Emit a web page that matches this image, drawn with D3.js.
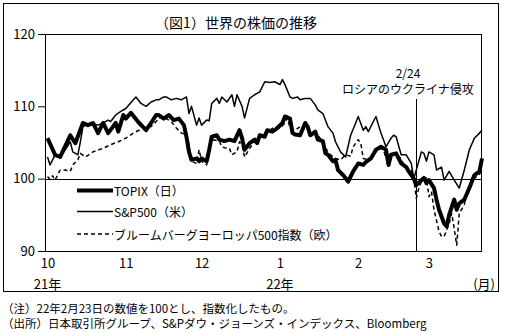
<!DOCTYPE html>
<html><head><meta charset="utf-8">
<script src="https://cdn.jsdelivr.net/npm/d3@7"></script>
<style>
body{margin:0;background:#fff}
svg{display:block}
text{font-family:"Noto Sans CJK JP","Noto Sans",sans-serif;fill:#000}
</style>
</head><body>
<svg id="c" width="506" height="332"></svg>
<script>
// ---- data (index, 2022-02-23 = 100) ----
const topix = [["2021-10-01",105.6],["2021-10-04",103.3],["2021-10-06",103.0],["2021-10-10",106.0],["2021-10-12",104.9],["2021-10-15",107.7],["2021-10-17",107.4],["2021-10-19",107.7],["2021-10-21",106.3],["2021-10-23",107.7],["2021-10-25",106.3],["2021-10-28",107.7],["2021-10-29",106.5],["2021-10-31",108.8],["2021-11-01",108.3],["2021-11-03",109.1],["2021-11-06",107.8],["2021-11-09",106.7],["2021-11-11",107.7],["2021-11-13",108.8],["2021-11-14",108.8],["2021-11-16",108.3],["2021-11-18",108.8],["2021-11-20",108.1],["2021-11-22",108.3],["2021-11-24",107.4],["2021-11-25",105.8],["2021-11-26",103.7],["2021-11-27",102.6],["2021-11-29",102.8],["2021-11-30",102.4],["2021-12-01",102.8],["2021-12-03",102.4],["2021-12-04",104.0],["2021-12-05",105.8],["2021-12-07",106.0],["2021-12-08",105.4],["2021-12-10",105.2],["2021-12-12",105.4],["2021-12-14",105.2],["2021-12-16",106.7],["2021-12-17",105.6],["2021-12-18",104.0],["2021-12-20",104.9],["2021-12-22",105.4],["2021-12-23",104.9],["2021-12-24",106.0],["2021-12-26",105.8],["2021-12-27",106.7],["2021-12-29",106.5],["2021-12-31",107.0],["2022-01-02",107.7],["2022-01-03",108.6],["2022-01-05",108.3],["2022-01-06",106.3],["2022-01-07",106.1],["2022-01-09",106.0],["2022-01-11",107.7],["2022-01-12",107.2],["2022-01-13",106.0],["2022-01-15",106.5],["2022-01-16",105.4],["2022-01-18",105.2],["2022-01-19",103.5],["2022-01-20",103.3],["2022-01-22",102.4],["2022-01-23",102.6],["2022-01-24",101.2],["2022-01-26",100.5],["2022-01-28",99.6],["2022-01-29",100.3],["2022-01-30",101.0],["2022-02-01",102.1],["2022-02-03",101.9],["2022-02-04",102.3],["2022-02-06",102.8],["2022-02-08",104.0],["2022-02-10",104.4],["2022-02-12",104.0],["2022-02-13",101.9],["2022-02-14",103.3],["2022-02-16",103.5],["2022-02-17",102.8],["2022-02-18",102.1],["2022-02-20",101.6],["2022-02-21",101.0],["2022-02-23",100.0],["2022-02-24",99.1],["2022-02-26",99.8],["2022-02-27",100.1],["2022-02-28",99.4],["2022-03-01",99.8],["2022-03-03",98.7],["2022-03-04",97.1],["2022-03-05",95.7],["2022-03-07",93.8],["2022-03-08",93.4],["2022-03-09",95.0],["2022-03-11",97.1],["2022-03-12",95.7],["2022-03-13",96.6],["2022-03-15",97.1],["2022-03-17",98.7],["2022-03-19",100.5],["2022-03-21",101.0],["2022-03-22",102.8]];

const sp500 = [["2021-10-01",103.0],["2021-10-02",101.9],["2021-10-04",103.3],["2021-10-06",102.9],["2021-10-08",104.0],["2021-10-10",105.1],["2021-10-11",103.7],["2021-10-13",103.3],["2021-10-14",105.1],["2021-10-15",107.2],["2021-10-18",107.7],["2021-10-21",107.4],["2021-10-23",107.7],["2021-10-25",108.1],["2021-10-26",107.9],["2021-10-28",108.8],["2021-10-30",109.3],["2021-11-01",109.7],["2021-11-04",110.9],["2021-11-05",111.3],["2021-11-07",110.4],["2021-11-09",110.0],["2021-11-11",110.6],["2021-11-13",110.9],["2021-11-14",110.9],["2021-11-16",111.3],["2021-11-17",111.3],["2021-11-19",110.9],["2021-11-21",111.1],["2021-11-23",110.9],["2021-11-25",111.3],["2021-11-26",109.0],["2021-11-27",110.0],["2021-11-29",107.4],["2021-11-30",108.4],["2021-12-01",107.4],["2021-12-03",108.1],["2021-12-04",108.0],["2021-12-05",110.4],["2021-12-07",111.1],["2021-12-08",110.4],["2021-12-09",111.3],["2021-12-11",110.6],["2021-12-13",111.6],["2021-12-14",110.0],["2021-12-15",111.6],["2021-12-17",110.0],["2021-12-18",108.4],["2021-12-20",111.1],["2021-12-22",111.6],["2021-12-24",112.0],["2021-12-26",113.4],["2021-12-28",113.3],["2021-12-30",113.4],["2022-01-01",113.0],["2022-01-02",113.7],["2022-01-03",113.0],["2022-01-05",111.3],["2022-01-06",111.1],["2022-01-08",111.3],["2022-01-09",110.9],["2022-01-11",111.1],["2022-01-13",111.1],["2022-01-15",110.2],["2022-01-16",109.5],["2022-01-18",109.0],["2022-01-20",107.2],["2022-01-22",106.3],["2022-01-23",105.1],["2022-01-25",103.7],["2022-01-27",103.0],["2022-01-29",106.0],["2022-01-31",107.7],["2022-02-01",108.6],["2022-02-03",106.7],["2022-02-04",107.2],["2022-02-05",106.5],["2022-02-07",107.9],["2022-02-08",108.6],["2022-02-10",106.3],["2022-02-12",104.4],["2022-02-14",105.6],["2022-02-15",106.0],["2022-02-16",105.8],["2022-02-18",103.3],["2022-02-20",103.3],["2022-02-22",102.1],["2022-02-23",100.0],["2022-02-24",101.2],["2022-02-26",103.7],["2022-02-27",103.5],["2022-02-28",102.4],["2022-03-01",103.7],["2022-03-03",103.3],["2022-03-04",101.2],["2022-03-06",101.6],["2022-03-07",99.8],["2022-03-09",101.0],["2022-03-11",99.8],["2022-03-13",98.7],["2022-03-15",101.2],["2022-03-17",104.0],["2022-03-19",105.6],["2022-03-21",106.3],["2022-03-22",106.7]];

const europe = [["2021-10-01",100.3],["2021-10-02",99.9],["2021-10-03",100.4],["2021-10-04",99.8],["2021-10-06",101.2],["2021-10-08",101.2],["2021-10-10",101.0],["2021-10-11",101.9],["2021-10-13",102.6],["2021-10-14",103.5],["2021-10-16",103.0],["2021-10-19",103.7],["2021-10-23",104.2],["2021-10-26",104.7],["2021-10-29",105.1],["2021-11-01",105.6],["2021-11-04",106.3],["2021-11-08",107.0],["2021-11-11",107.2],["2021-11-13",107.9],["2021-11-15",108.6],["2021-11-17",108.3],["2021-11-19",107.9],["2021-11-21",107.0],["2021-11-23",106.3],["2021-11-25",106.1],["2021-11-26",104.7],["2021-11-27",102.4],["2021-11-29",102.1],["2021-11-30",104.0],["2021-12-01",102.4],["2021-12-03",101.9],["2021-12-04",103.7],["2021-12-05",105.4],["2021-12-08",105.2],["2021-12-09",104.4],["2021-12-11",104.2],["2021-12-12",104.2],["2021-12-13",103.3],["2021-12-15",103.7],["2021-12-16",105.1],["2021-12-17",104.7],["2021-12-18",103.0],["2021-12-20",104.2],["2021-12-22",105.1],["2021-12-24",105.6],["2021-12-26",106.3],["2021-12-28",106.7],["2021-12-30",107.2],["2022-01-01",107.0],["2022-01-03",107.7],["2022-01-04",108.4],["2022-01-05",107.0],["2022-01-07",106.7],["2022-01-09",107.2],["2022-01-11",107.4],["2022-01-12",106.7],["2022-01-14",106.5],["2022-01-16",106.0],["2022-01-18",105.1],["2022-01-19",104.2],["2022-01-21",103.3],["2022-01-23",102.8],["2022-01-25",102.6],["2022-01-27",103.3],["2022-01-29",103.1],["2022-01-30",104.4],["2022-02-01",105.4],["2022-02-02",104.9],["2022-02-03",102.8],["2022-02-05",102.6],["2022-02-07",103.3],["2022-02-08",103.7],["2022-02-10",104.2],["2022-02-11",104.0],["2022-02-12",102.8],["2022-02-14",103.3],["2022-02-15",103.5],["2022-02-16",103.1],["2022-02-18",102.8],["2022-02-19",101.9],["2022-02-20",101.4],["2022-02-22",101.2],["2022-02-23",100.0],["2022-02-24",97.3],["2022-02-25",98.7],["2022-02-26",99.6],["2022-02-27",99.8],["2022-02-28",100.1],["2022-03-01",97.5],["2022-03-02",98.2],["2022-03-03",95.7],["2022-03-05",92.7],["2022-03-06",92.0],["2022-03-07",92.0],["2022-03-09",93.8],["2022-03-10",95.2],["2022-03-11",93.1],["2022-03-12",90.8],["2022-03-13",95.2],["2022-03-15",96.4],["2022-03-16",98.2],["2022-03-18",99.8],["2022-03-20",100.3],["2022-03-22",101.0]];

const seriesNames = ["TOPIX（日）","S&P500（米）","ブルームバーグヨーロッパ500指数（欧）"];
const monthTicks = ["2021-10-01","2021-11-01","2021-12-01","2022-01-01","2022-02-01","2022-03-01"];
const monthLabels = ["10","11","12","1","2","3"];
const yearTicks = ["2021-10-01","2022-01-01"];
const yearLabels = ["21年","22年"];
const yTicks = [90,100,110,120];
const eventDate = "2022-02-24";
const eventLabels = ["2/24","ロシアのウクライナ侵攻"];
const titleText = "（図1）世界の株価の推移";
const noteLines = ["（注）22年2月23日の数値を100とし、指数化したもの。","（出所）日本取引所グループ、S&Pダウ・ジョーンズ・インデックス、Bloomberg"];

// ---- drawing ----
const parse = d3.timeParse("%Y-%m-%d");
const svg = d3.select("#c");
const L = 45, R = 482, T = 34, B = 251;
const FF = '"Noto Sans CJK JP","Noto Sans",sans-serif';

const x = d3.scaleTime().domain([parse("2021-09-30"), parse("2022-03-22")]).range([L, R]);
const y = d3.scaleLinear().domain([90, 120]).range([B, T]);

// outer frame
svg.append("rect").attr("x",3.5).attr("y",3.5).attr("width",495).attr("height",288)
  .attr("fill","none").attr("stroke","#000").attr("stroke-width",1);

// title
svg.append("text").attr("x",236).attr("y",22).attr("text-anchor","middle")
  .attr("dominant-baseline","central").attr("font-size",14).text(titleText);

// y axis
const yAxis = d3.axisLeft(y).tickValues(yTicks).tickSize(7).tickPadding(3).tickFormat(d3.format("d"));
const gy = svg.append("g").attr("transform",`translate(${L},0)`).call(yAxis);
gy.select(".domain").remove();
gy.selectAll("text").attr("font-size",13).attr("font-family",FF);
gy.selectAll("line").attr("stroke","#000");

// x axis labels (no tick marks)
const xAxis = d3.axisBottom(x).tickValues(monthTicks.map(parse)).tickSize(0).tickPadding(8)
  .tickFormat((d,i) => monthLabels[i]);
const gx = svg.append("g").attr("transform",`translate(0,${B})`).call(xAxis);
gx.select(".domain").remove();
gx.selectAll("text").attr("font-size",13).attr("font-family",FF);

svg.selectAll("text.yr").data(yearTicks).enter().append("text").attr("class","yr")
  .attr("x", d => x(parse(d))).attr("y", 283).attr("text-anchor","middle")
  .attr("dominant-baseline","central").attr("font-size",13).text((d,i) => yearLabels[i]);
svg.append("text").attr("x",495).attr("y",283).attr("text-anchor","end")
  .attr("dominant-baseline","central").attr("font-size",13).text("(月)");

// plot frame
svg.append("rect").attr("x",L+0.5).attr("y",T+0.5).attr("width",R-L-1).attr("height",B-T)
  .attr("fill","none").attr("stroke","#000").attr("stroke-width",1);

// 100 line
svg.append("line").attr("x1",L).attr("x2",R).attr("y1",Math.round(y(100))+0.5).attr("y2",Math.round(y(100))+0.5)
  .attr("stroke","#000").attr("stroke-width",1);

// event line & labels
const ex = Math.round(x(parse(eventDate)))+0.5;
svg.append("line").attr("x1",ex).attr("x2",ex).attr("y1",99).attr("y2",B)
  .attr("stroke","#000").attr("stroke-width",1);
svg.append("text").attr("x",408).attr("y",72).attr("text-anchor","middle")
  .attr("dominant-baseline","central").attr("font-size",12).text(eventLabels[0]);
svg.append("text").attr("x",408).attr("y",88).attr("text-anchor","middle")
  .attr("dominant-baseline","central").attr("font-size",12).text(eventLabels[1]);

// lines
const line = d3.line().x(d => x(parse(d[0]))).y(d => y(d[1]));
const styles = [
  {w:4, dash:null},
  {w:1.5, dash:null},
  {w:1.5, dash:"4,3"}
];
const series = [topix, sp500, europe];
series.forEach((s,i) => {
  svg.append("path").datum(s).attr("d",line).attr("fill","none").attr("stroke","#000")
    .attr("stroke-width",styles[i].w).attr("stroke-linejoin","round")
    .attr("stroke-dasharray",styles[i].dash);
});

// legend
const legY = [190.5, 211.5, 234];
seriesNames.forEach((n,i) => {
  svg.append("line").attr("x1",77).attr("x2",113).attr("y1",legY[i]).attr("y2",legY[i])
    .attr("stroke","#000").attr("stroke-width",styles[i].w).attr("stroke-dasharray",styles[i].dash);
  svg.append("text").attr("x",114).attr("y",legY[i]).attr("dominant-baseline","central")
    .attr("font-size",12).text(n);
});

// notes
noteLines.forEach((t,i) => {
  svg.append("text").attr("x",2).attr("y",[308,323][i]).attr("dominant-baseline","central")
    .attr("font-size",11.5).text(t);
});
</script>
</body></html>
